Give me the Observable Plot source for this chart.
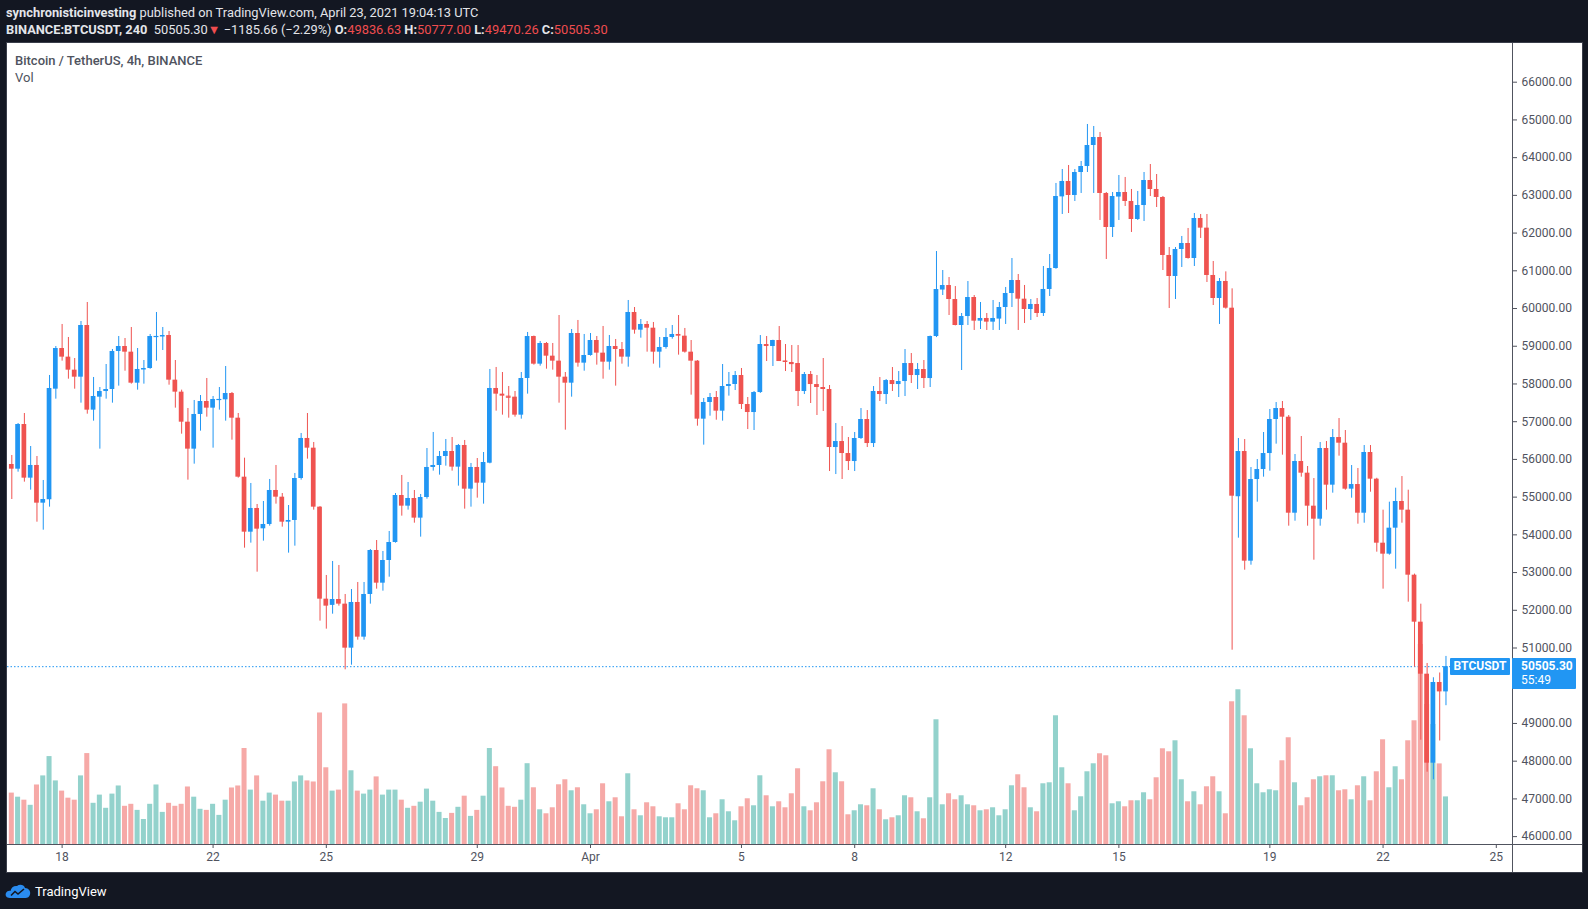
<!DOCTYPE html>
<html>
<head>
<meta charset="utf-8">
<script src="https://cdn.jsdelivr.net/npm/d3@7"></script>
<script src="https://cdn.jsdelivr.net/npm/@observablehq/plot@0.6"></script>
<style>
html, body { margin:0; padding:0; background:#131722; width:1588px; height:909px; overflow:hidden; font-family: Roboto, "Noto Sans", sans-serif; }
.hdr { position:absolute; left:6px; white-space:nowrap; font-size:12.85px; color:#e3e5ea; line-height:16px; }
.hdr b { font-weight:700; }
.red { color:#f04d4f; }
#panel { position:absolute; left:7px; top:43px; width:1575px; height:829px; background:#ffffff; outline:1px solid #3a3e4a; }
#panel svg { position:absolute; left:0; top:0; }
.ttl { position:absolute; left:8px; font-size:13px; color:#4f535e; white-space:nowrap; line-height:16px; }
.hline { position:absolute; background:#50535e; }
.tag { position:absolute; background:#2196f3; color:#fff; font-size:12px; font-weight:700; white-space:nowrap; border-radius:1px; }
#logo { position:absolute; left:5px; top:882px; height:18px; display:flex; align-items:center; gap:4px; color:#ffffff; font-size:13px; }
</style>
</head>
<body>
<div class="hdr" style="top:5px"><b>synchronisticinvesting</b> published on TradingView.com, April 23, 2021 19:04:13 UTC</div>
<div class="hdr" style="top:22px"><b>BINANCE:BTCUSDT, 240</b>&nbsp; 50505.30<span class="red">▼</span> −1185.66 (−2.29%) <b>O:</b><span class="red">49836.63</span> <b>H:</b><span class="red">50777.00</span> <b>L:</b><span class="red">49470.26</span> <b>C:</b><span class="red">50505.30</span></div>
<div id="panel">
  <div class="ttl" style="top:10px;font-weight:500">Bitcoin / TetherUS, 4h, BINANCE</div>
  <div class="ttl" style="top:27px">Vol</div>
</div>
<div id="logo">
  <svg width="26" height="16" viewBox="0 0 26 16"><path d="M5 15 C1 15 0 12 1 10 C2 8 4 7.5 5.5 8 C6 4.5 9 2.5 12 3 C14.5 1 19 1.5 20 5 C23.5 5 26 8 25 11.5 C24.5 14 22.5 15 20.5 15 Z" fill="#2a8cf0"/><path d="M6 12.5 L10 8.5 L13 11 L19 6" stroke="#131722" stroke-width="1.6" fill="none"/></svg>
  <span>TradingView</span>
</div>
<script>
// ---- data (Binance BTC/USDT, 4h candles starting 2021-03-16 16:00 UTC) ----
const startTime = "2021-03-16T16:00:00Z";
const opens = [55865,55741,56925,55503,55839,54840,54930,57862,58940,58711,58366,58180,59550,57306,57650,57800,57853,58861,58993,58843,58021,58370,58410,59245,59245,59285,58101,57783,56987,56272,57191,57535,57359,57570,57580,57747,57093,55529,54071,54699,54160,54275,55176,54999,54336,54381,55494,56555,56298,54734,52295,52130,52286,52163,50996,52207,51288,52419,53585,52719,53320,53797,55043,54761,54964,54443,54990,55786,55839,56077,56210,55795,56369,55211,55786,55370,55900,57880,57730,57677,57650,57173,58145,59258,58525,59073,58737,58605,58180,58021,59338,58552,58755,59152,58817,58578,58993,58914,58711,59895,59426,59577,59479,58843,58967,59232,59312,59267,58843,58605,57067,57509,57641,57279,57933,57986,58224,57455,57243,57773,59046,58993,59152,58610,58569,58542,57800,58251,57985,57906,57853,56315,56474,56156,55944,56554,57058,56421,57800,57720,58091,57985,58065,58542,58224,58383,58144,59258,60490,60610,60239,59550,59788,60292,59665,59736,59639,59720,60027,60398,60743,60248,59974,60107,59868,60505,61061,62960,63368,62997,63606,63765,64322,64534,63050,62148,62955,63076,62838,62360,62731,63394,63156,62944,61406,60849,61565,61724,61326,62387,62131,60876,60266,60717,60009,55010,56209,53302,55467,55732,56156,57058,57349,57119,54574,55944,55635,54760,54415,56289,55317,56580,56430,55211,55334,54574,56183,55476,53779,53488,54177,54884,54654,52931,51685,50306,47947,50086,49836.63];
const highs = [56104,56952,57217,56342,56077,55441,58225,58993,59577,59232,58675,59656,60160,58172,57906,58516,58914,59258,59205,59497,58940,58622,59312,59895,59497,59391,58622,57836,57350,57562,57694,58145,57668,57906,58463,57774,57217,56033,55362,54805,54884,55468,55839,55096,54778,55627,56687,57217,56449,54750,52923,53294,53188,52419,52551,52737,52737,53612,53850,53559,54089,55096,55574,55388,55176,55070,56289,56714,56210,56528,56581,56396,56502,55892,56024,56183,58384,58437,58304,57933,57800,58304,59365,59270,59126,59099,59073,59815,58304,59444,59683,59312,59338,59258,59524,59285,59179,59099,60213,60027,59709,59656,59630,59232,59471,59550,59815,59471,59152,58620,57615,57747,57800,58516,58304,58330,58410,57641,57800,59284,59258,59160,59523,59046,59019,59019,58304,58330,58224,58675,57959,56951,56872,56580,56713,57349,57296,57932,58171,58118,58436,58330,58913,58807,58542,58622,59270,61511,61008,60822,60583,59868,60716,60345,60160,59868,60213,60160,60558,61326,60902,60611,60239,60265,61114,61432,63315,63686,63792,63686,63898,64879,64826,64667,63076,63076,63527,63474,63156,63103,63606,63818,63553,62970,61618,61618,61910,62122,62519,62493,62493,61247,60796,60972,60522,56554,56527,55785,55997,56713,57323,57508,57535,57164,56130,56607,55812,55493,56448,56474,56793,57084,56766,55838,55759,56368,56368,55500,54654,54866,55237,55546,55184,52960,52162,50590,50211,50338,50777];
const lows = [54937,55662,55397,55185,54336,54124,54734,57597,58605,58127,57862,57491,57199,57014,56272,57597,57491,57942,58339,57995,57836,57995,58390,58605,58887,57968,57359,56669,55450,55874,56749,57120,56298,57306,57014,56510,55503,53647,53780,53011,53833,54230,54814,54204,53515,53700,55450,56007,54655,51712,51500,51897,52110,50422,50545,51208,51208,52163,52560,52507,52878,53780,54496,54655,54310,53939,54946,55689,55583,55821,55689,55291,54681,54734,54973,54814,55883,57279,57173,57093,57120,57067,57730,58499,58472,58392,58366,57491,56775,57650,58445,58339,58737,58499,58127,58366,57942,58525,58445,59320,59214,58843,58525,58419,58923,59188,58764,58817,57703,56881,56378,57146,57040,57014,57677,57826,57323,56792,56766,57750,58595,58463,58595,58330,58304,57402,57720,57482,57164,57270,55679,55599,55467,55705,55679,56530,56315,56315,57535,57455,57800,57641,57667,58012,57853,57879,57906,59230,60345,59815,59540,58357,59550,59418,59444,59418,59418,59418,59577,60027,59418,59603,59683,59762,59789,60319,61040,62493,62519,62838,63050,63606,63050,62334,61300,61883,62334,62705,62016,62334,62307,62970,62678,61008,60001,60239,61088,61310,61114,61857,60690,60080,59577,59983,50942,53912,53063,53196,54866,55529,55688,56404,56112,54230,54362,55529,54230,53328,54230,54654,55105,56086,55184,54972,54283,54309,55131,53541,52560,53461,53090,54309,52215,50492,48556,47708,47507,48535,49470.26];
const closes = [55741,56925,55503,55839,54840,54937,57880,58940,58711,58366,58180,59550,57306,57668,57800,57853,58861,58993,58843,58021,58384,58410,59258,59258,59285,58101,57783,56987,56272,57191,57535,57359,57588,57588,57747,57093,55529,54071,54699,54151,54275,55176,54999,54336,54381,55494,56555,56298,54734,52295,52110,52286,52163,50996,52207,51288,52419,53585,52719,53320,53797,55043,54761,54964,54443,54990,55786,55839,56077,56210,55795,56369,55211,55786,55370,55918,57880,57730,57677,57650,57173,58145,59258,58525,59073,58737,58605,58180,58021,59338,58552,58755,59152,58817,58578,58993,58914,58711,59895,59426,59577,59479,58843,58967,59232,59312,59267,58843,58605,57067,57509,57641,57279,57933,57986,58224,57455,57243,57773,59046,58993,59152,58595,58569,58542,57800,58251,57985,57906,57853,56315,56474,56156,55944,56554,57058,56421,57800,57720,58091,57985,58065,58542,58224,58383,58144,59258,60504,60610,60239,59550,59788,60292,59665,59736,59639,59736,60027,60398,60743,60248,59974,60107,59868,60505,61061,62970,63368,62997,63606,63765,64322,64534,63050,62148,62970,63076,62838,62360,62731,63394,63156,62944,61406,60849,61565,61724,61326,62387,62131,60876,60266,60717,60009,55025,56209,53302,55467,55732,56156,57058,57349,57119,54574,55944,55635,54760,54415,56289,55317,56580,56430,55211,55334,54574,56183,55476,53779,53488,54177,54884,54654,52931,51685,50306,47947,50086,49836.63,50505.30];
const volumes = [12850,11830,11080,9800,14880,17150,21980,15900,13350,11580,11080,17150,22730,10300,12350,9050,12600,14630,9550,10050,8530,6250,10050,14880,8030,10300,9550,10050,14380,11830,8800,8530,10050,7280,11080,14130,14630,24000,13600,17150,10830,12850,12350,10830,10830,15630,17150,15900,15630,32880,19180,13350,13600,35150,18430,13350,12600,13600,16900,12350,13600,13600,11080,9050,9550,10580,13850,10830,8030,6500,7780,9300,12080,7030,8530,12080,24000,19450,14130,9550,9300,11080,20200,14180,8680,7680,9180,14930,16180,13430,14180,9930,7680,8680,15180,10680,11680,6930,17680,8680,7180,10430,9430,6930,6680,6680,10180,8680,14680,13930,13430,6680,7680,11180,8180,5930,9430,11430,9680,17180,12180,9430,10680,9180,12680,18930,9430,8430,10430,15680,23680,17930,15680,7430,8430,9930,9680,13930,8680,6180,6680,7180,12180,11680,8180,6430,11680,31180,9930,12680,11180,12180,9930,9680,8430,8680,9180,7180,8680,14680,17430,14180,9180,8180,15180,15430,32180,19180,15180,8430,11930,18180,20180,22680,22180,10180,10680,9430,10930,10930,12930,11180,16680,23930,23180,25930,16180,10680,13180,9930,14430,16930,13180,7680,35680,38680,32180,23930,15180,12930,13680,13430,20930,26680,15430,9680,11680,16180,16930,17180,17180,13430,13680,11180,14680,16930,10930,18180,26180,14180,19430,16180,25930,30930,50000,35000,30000,20150,11900];

// visible right-axis labels (50000.00 is hidden under the last-price tag in the reference)
const priceTicks = [46000,47000,48000,49000,51000,52000,53000,54000,55000,56000,57000,58000,59000,60000,61000,62000,63000,64000,65000,66000];
const dateTicks = ["2021-03-18","2021-03-22","2021-03-25","2021-03-29","2021-04-01","2021-04-05","2021-04-08","2021-04-12","2021-04-15","2021-04-19","2021-04-22","2021-04-25"];
const dateTickLabels = ["18","22","25","29","Apr","5","8","12","15","19","22","25"];
const symbol = "BTCUSDT";
const countdown = "55:49";

// ---- build ----
const HR = 3600e3;
const T0 = new Date(startTime).getTime();
const candles = opens.map((o, i) => ({
  t: new Date(T0 + i * 4 * HR), o, h: highs[i], l: lows[i], c: closes[i], v: volumes[i],
  up: closes[i] >= o
}));
const UP = "#2196f3", DOWN = "#ef5350", VUP = "#93d2cc", VDOWN = "#f6a9a7";
const lastClose = closes[closes.length - 1];
const tickDates = dateTicks.map(d => new Date(d + "T00:00:00Z"));
const tickLabelMap = new Map(tickDates.map((d, i) => [+d, dateTickLabels[i]]));

const W = 1575, H = 829, MR = 70, MB = 28;
const xDomain = [new Date(T0 - 2.734 * HR), new Date(T0 + 954.3 * HR)];
const bodyHalf = 1.5 * HR, volHalf = 1.6 * HR;
const upC = candles.filter(d => d.up), dnC = candles.filter(d => !d.up);

const volPlot = Plot.plot({
  width: W, height: H, marginLeft: 0, marginRight: MR, marginTop: 0, marginBottom: MB,
  x: {type: "utc", domain: xDomain, axis: null},
  y: {domain: [0, 200250], axis: null},
  style: {background: "transparent", overflow: "visible"},
  marks: [
    Plot.rectY(upC, {x1: d => new Date(+d.t - volHalf), x2: d => new Date(+d.t + volHalf), y: "v", fill: VUP}),
    Plot.rectY(dnC, {x1: d => new Date(+d.t - volHalf), x2: d => new Date(+d.t + volHalf), y: "v", fill: VDOWN})
  ]
});

const pricePlot = Plot.plot({
  width: W, height: H, marginLeft: 0, marginRight: MR, marginTop: 0, marginBottom: MB,
  x: {type: "utc", domain: xDomain, ticks: tickDates, tickFormat: d => tickLabelMap.get(+d) ?? "", tickSize: 4, tickPadding: 4, label: null},
  y: {domain: [45791, 67026], axis: "right", ticks: priceTicks, tickFormat: d => d.toFixed(2), tickSize: 4, tickPadding: 5, label: null},
  style: {background: "transparent", overflow: "visible", color: "#50535e", fontFamily: "Roboto, sans-serif", fontSize: "12px"},
  marks: [
    Plot.ruleY([lastClose], {stroke: UP, strokeWidth: 1, strokeDasharray: "1.5,2"}),
    Plot.ruleX(upC, {x: "t", y1: "l", y2: "h", stroke: UP, strokeWidth: 1}),
    Plot.ruleX(dnC, {x: "t", y1: "l", y2: "h", stroke: DOWN, strokeWidth: 1}),
    Plot.rect(upC, {x1: d => new Date(+d.t - bodyHalf), x2: d => new Date(+d.t + bodyHalf), y1: "o", y2: "c", fill: UP}),
    Plot.rect(dnC, {x1: d => new Date(+d.t - bodyHalf), x2: d => new Date(+d.t + bodyHalf), y1: "o", y2: "c", fill: DOWN}),
    Plot.ruleY(candles.filter(d => Math.abs(d.o - d.c) < 40), {y: "c", x1: d => new Date(+d.t - bodyHalf), x2: d => new Date(+d.t + bodyHalf), stroke: d => d.up ? UP : DOWN, strokeWidth: 1.2})
  ]
});

const panel = document.getElementById("panel");
panel.appendChild(volPlot);
panel.appendChild(pricePlot);

// axis frame lines
const ys = pricePlot.scale("y");
const hl = document.createElement("div");
hl.className = "hline";
hl.style.cssText = `left:0px;top:${H - MB}px;width:${W}px;height:1px;`;
panel.appendChild(hl);
const vl = document.createElement("div");
vl.className = "hline";
vl.style.cssText = `left:${W - MR}px;top:0px;width:1px;height:${H}px;`;
panel.appendChild(vl);

// last price tags
const yPrice = ys.apply(lastClose);
const tag1 = document.createElement("div");
tag1.className = "tag";
tag1.style.cssText = `left:${W - MR - 62}px;top:${yPrice - 8.5}px;width:60px;height:17px;line-height:17px;text-align:center;`;
tag1.textContent = symbol;
panel.appendChild(tag1);
const tag2 = document.createElement("div");
tag2.className = "tag";
tag2.style.cssText = `left:${W - MR}px;top:${yPrice - 8.5}px;width:64px;height:31px;padding-left:9px;box-sizing:border-box;line-height:14px;padding-top:1.5px;`;
tag2.innerHTML = `${lastClose.toFixed(2)}<br><span style="font-weight:400">${countdown}</span>`;
panel.appendChild(tag2);
</script>
</body>
</html>
